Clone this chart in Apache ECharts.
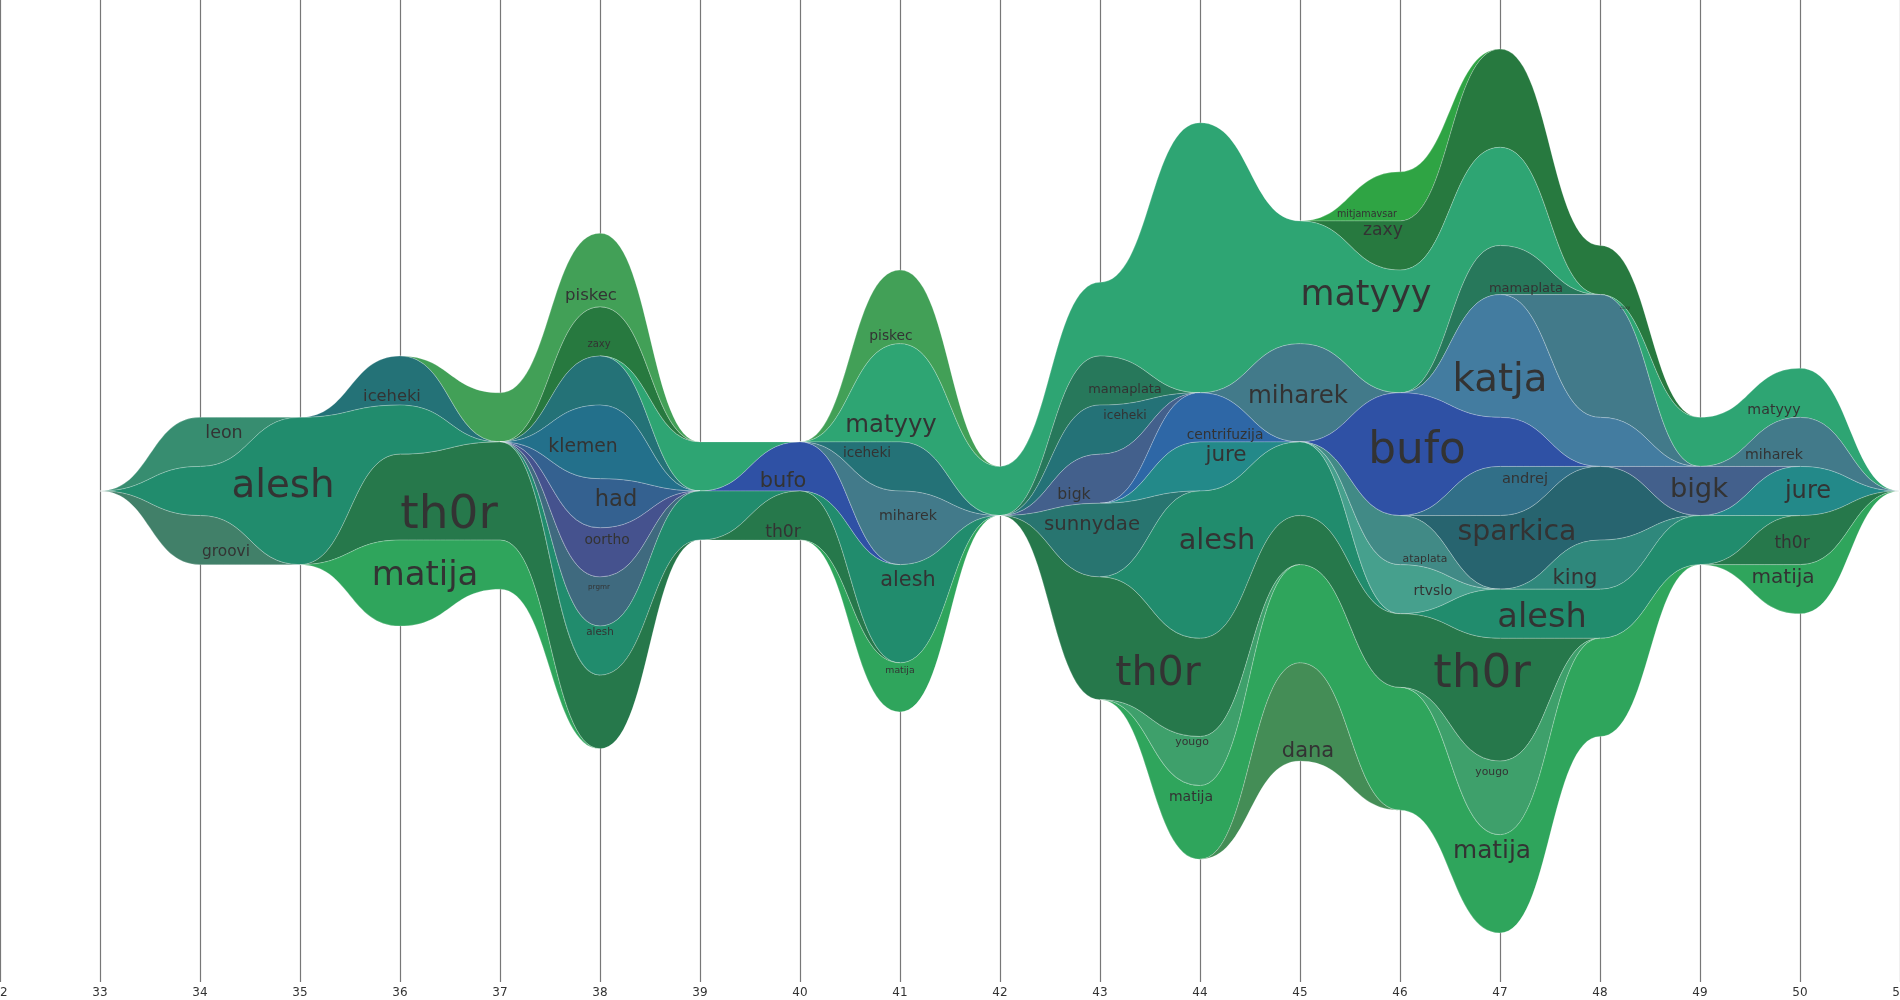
<!DOCTYPE html>
<html>
<head>
<meta charset="utf-8">
<script src="https://cdn.jsdelivr.net/npm/echarts@6/dist/echarts.min.js"></script>
<style>
html,body{margin:0;padding:0;background:#ffffff;}
#main{width:1900px;height:1000px;}
</style>
</head>
<body>
<div id="main"></div>
<script>
// ---- data: week numbers and per-user activity (stream thickness) ----
const weeks = [33,34,35,36,37,38,39,40,41,42,43,44,45,46,47,48,49,50,51];
//                 33 34 35 36 37 38 39 40 41 42 43 44 45 46 47 48 49 50 51
const leon        = [0, 4, 0, 0, 0, 0, 0, 0, 0, 0, 0, 0, 0, 0, 0, 0, 0, 0, 0];
const piskec      = [0, 0, 0, 0, 4, 6, 0, 0, 6, 0, 0, 0, 0, 0, 0, 0, 0, 0, 0];
const mitjamavsar = [0, 0, 0, 0, 0, 0, 0, 0, 0, 0, 0, 0, 0, 4, 0, 0, 0, 0, 0];
const zaxy        = [0, 0, 0, 0, 0, 4, 0, 0, 0, 0, 0, 0, 0, 4, 8, 4, 0, 0, 0];
const matyyy      = [0, 0, 0, 0, 0, 0, 4, 0, 8, 4, 6,22,10,10, 8, 0, 4, 4, 0];
const mamaplata   = [0, 0, 0, 0, 0, 0, 0, 0, 0, 0, 4, 0, 0, 0, 4, 0, 0, 0, 0];
const iceheki     = [0, 0, 0, 4, 0, 4, 0, 0, 4, 0, 4, 0, 0, 0, 0, 0, 0, 0, 0];
const klemen      = [0, 0, 0, 0, 0, 6, 0, 0, 0, 0, 0, 0, 0, 0, 0, 0, 0, 0, 0];
const had         = [0, 0, 0, 0, 0, 4, 0, 0, 0, 0, 0, 0, 0, 0, 0, 0, 0, 0, 0];
const oortho      = [0, 0, 0, 0, 0, 4, 0, 0, 0, 0, 0, 0, 0, 0, 0, 0, 0, 0, 0];
const prgmr       = [0, 0, 0, 0, 0, 4, 0, 0, 0, 0, 0, 0, 0, 0, 0, 0, 0, 0, 0];
const miharek     = [0, 0, 0, 0, 0, 0, 0, 0, 6, 0, 0, 0, 8, 0, 0,10, 0, 4, 0];
const katja       = [0, 0, 0, 0, 0, 0, 0, 0, 0, 0, 0, 0, 0, 0,10, 4, 0, 0, 0];
const bufo        = [0, 0, 0, 0, 0, 0, 0, 4, 0, 0, 0, 0, 0,10, 4, 0, 0, 0, 0];
const andrej      = [0, 0, 0, 0, 0, 0, 0, 0, 0, 0, 0, 0, 0, 0, 4, 0, 0, 0, 0];
const bigk        = [0, 0, 0, 0, 0, 0, 0, 0, 0, 0, 4, 0, 0, 0, 0, 0, 4, 0, 0];
const centrifuzija= [0, 0, 0, 0, 0, 0, 0, 0, 0, 0, 0, 4, 0, 0, 0, 0, 0, 0, 0];
const jure        = [0, 0, 0, 0, 0, 0, 0, 0, 0, 0, 0, 4, 0, 0, 0, 0, 0, 4, 0];
const sunnydae    = [0, 0, 0, 0, 0, 0, 0, 0, 0, 0, 6, 0, 0, 0, 0, 0, 0, 0, 0];
const sparkica    = [0, 0, 0, 0, 0, 0, 0, 0, 0, 0, 0, 0, 0, 0, 6, 6, 0, 0, 0];
const king        = [0, 0, 0, 0, 0, 0, 0, 0, 0, 0, 0, 0, 0, 0, 0, 4, 0, 0, 0];
const ataplata    = [0, 0, 0, 0, 0, 0, 0, 0, 0, 0, 0, 0, 0, 4, 0, 0, 0, 0, 0];
const rtvslo      = [0, 0, 0, 0, 0, 0, 0, 0, 0, 0, 0, 0, 0, 4, 0, 0, 0, 0, 0];
const alesh       = [0, 4,12, 4, 0, 4, 4, 0, 8, 0, 0,12, 6, 0, 4, 4, 4, 0, 0];
const groovi      = [0, 4, 0, 0, 0, 0, 0, 0, 0, 0, 0, 0, 0, 0, 0, 0, 0, 0, 0];
const th0r        = [0, 0, 0, 7, 8, 6, 0, 4, 0, 0,10, 8, 4, 6,10, 0, 0, 4, 0];
const yougo       = [0, 0, 0, 0, 0, 0, 0, 0, 0, 0, 0, 4, 0, 0, 6, 0, 0, 0, 0];
const matija      = [0, 0, 0, 7, 4, 0, 0, 0, 4, 0, 0, 6, 8,10, 8, 8, 0, 4, 0];
const dana        = [0, 0, 0, 0, 0, 0, 0, 0, 0, 0, 0, 0, 8, 0, 0, 0, 0, 0, 0];

// stacking order, top to bottom
const layerOrder = [
  ['leon', leon], ['piskec', piskec], ['mitjamavsar', mitjamavsar], ['zaxy', zaxy],
  ['matyyy', matyyy], ['mamaplata', mamaplata], ['iceheki', iceheki], ['klemen', klemen],
  ['had', had], ['oortho', oortho], ['prgmr', prgmr], ['miharek', miharek],
  ['katja', katja], ['bufo', bufo], ['andrej', andrej], ['bigk', bigk],
  ['centrifuzija', centrifuzija], ['jure', jure], ['sunnydae', sunnydae], ['sparkica', sparkica],
  ['king', king], ['ataplata', ataplata], ['rtvslo', rtvslo], ['alesh', alesh],
  ['groovi', groovi], ['th0r', th0r], ['yougo', yougo], ['matija', matija], ['dana', dana]
];

// ---- styles ----
const layerColors = {
  leon:'#378d70', piskec:'#42a057', mitjamavsar:'#2fa444', zaxy:'#27793f', matyyy:'#2ea573',
  mamaplata:'#27785b', iceheki:'#247277', klemen:'#23708b', had:'#346190', oortho:'#45528e',
  prgmr:'#3f6a7f', miharek:'#427a8a', katja:'#437ca0', bufo:'#2f51a5', andrej:'#316f88',
  bigk:'#43608c', centrifuzija:'#2e67a6', jure:'#238989', sunnydae:'#287570', sparkica:'#27646f',
  king:'#2f887c', ataplata:'#418a86', rtvslo:'#46a08d', alesh:'#218c6d', groovi:'#418069',
  th0r:'#26784b', yougo:'#3ea06b', matija:'#2fa55c', dana:'#448d56'
};

// label annotations: [user, week position, font size, vertical nudge in stream units]
const labelSpots = [
  ['leon',34.24,17.5,0], ['alesh',34.83,38.8,0.3], ['groovi',34.26,15.4,0], ['iceheki',35.92,16.3,-0.7],
  ['th0r',36.49,47,-1.5], ['matija',36.25,33.9,-0.7], ['piskec',37.91,16.5,-0.6], ['zaxy',37.99,10,-0.9],
  ['klemen',37.83,18.8,-0.4], ['had',38.16,22.6,0], ['oortho',38.07,13.8,0.4], ['prgmr',37.99,7.2,1.0],
  ['alesh',38.0,10.3,1.2], ['matyyy',40.91,24.4,-0.3], ['piskec',40.91,13.8,-1.2], ['bufo',39.83,20.9,-0.6],
  ['th0r',39.83,17.2,-0.9], ['iceheki',40.67,13.6,-0.2], ['miharek',41.08,14.2,0.7], ['alesh',41.08,20.8,1.3],
  ['matija',41.0,9.3,1.1], ['mamaplata',43.25,12.9,0], ['iceheki',43.25,12.2,0], ['bigk',42.74,15.7,-0.4],
  ['sunnydae',42.92,19.7,0], ['centrifuzija',44.25,13.8,0], ['jure',44.26,21.5,0], ['miharek',44.98,24.5,-0.3],
  ['matyyy',45.66,34.9,0.9], ['alesh',44.17,28.8,-0.9], ['th0r',43.58,41.3,-0.4], ['yougo',43.92,10.9,1.2],
  ['matija',43.91,14,0.9], ['dana',45.08,21,-1.9], ['mitjamavsar',45.67,9.6,0], ['zaxy',45.83,17.2,0.7],
  ['mamaplata',47.26,13,0], ['katja',47.0,38.7,-0.2], ['bufo',46.17,43.7,-0.6], ['andrej',47.25,14.6,0],
  ['sparkica',47.17,28.3,-0.2], ['ataplata',46.25,10.8,-0.2], ['rtvslo',46.33,13.9,-0.2], ['king',47.75,21.2,-0.2],
  ['alesh',47.42,33.6,-0.4], ['th0r',46.82,47,-0.4], ['yougo',46.92,10.8,1.5], ['matija',46.92,24.8,0.4],
  ['zaxy',48.25,4.6,-1.6], ['matyyy',49.74,14.2,-0.3], ['miharek',49.74,14.2,0.1], ['bigk',48.99,27.4,-0.2],
  ['jure',50.08,24.1,-0.1], ['th0r',49.92,17,-0.1], ['matija',49.83,20.1,0]
];

// ---- layout (centred stream, silhouette baseline) ----
const n = weeks.length;
const layers = layerOrder.map(([name, values]) => ({name, values}));
const sums = weeks.map((_, k) => layers.reduce((s, L) => s + L.values[k], 0));
let cursor = sums.map(s => s / 2);
layers.forEach(L => {
  L.top = cursor.slice();
  cursor = cursor.map((c, k) => c - L.values[k]);
  L.bot = cursor.slice();
});
const byName = {};
layers.forEach(L => { byName[L.name] = L; });

// value along a horizontal-tangent cubic ("bump") curve through the points
function bumpAt(arr, x) {
  if (x <= weeks[0]) return arr[0];
  if (x >= weeks[n - 1]) return arr[n - 1];
  let k = 0;
  while (k < n - 2 && x > weeks[k + 1]) k++;
  const u = (x - weeks[k]) / (weeks[k + 1] - weeks[k]);
  let lo = 0, hi = 1;
  for (let i = 0; i < 40; i++) {
    const t = (lo + hi) / 2;
    const xt = 1.5 * t - 1.5 * t * t + t * t * t;
    if (xt < u) lo = t; else hi = t;
  }
  const t = (lo + hi) / 2;
  return arr[k] + (arr[k + 1] - arr[k]) * (3 * t * t - 2 * t * t * t);
}

const FONT = '"DejaVu Sans", "Noto Sans", sans-serif';
const measureCtx = document.createElement('canvas').getContext('2d');
function textWidth(txt, size) {
  measureCtx.font = size + 'px ' + FONT;
  return measureCtx.measureText(txt).width;
}

function segmentPath(L, s, e, api) {
  const up = [], lo = [];
  for (let k = s; k <= e; k++) {
    up.push(api.coord([weeks[k], L.top[k]]));
    lo.push(api.coord([weeks[k], L.bot[k]]));
  }
  let d = 'M' + up[0][0] + ',' + up[0][1];
  for (let i = 1; i < up.length; i++) {
    const m = (up[i - 1][0] + up[i][0]) / 2;
    d += 'C' + m + ',' + up[i - 1][1] + ' ' + m + ',' + up[i][1] + ' ' + up[i][0] + ',' + up[i][1];
  }
  const last = lo.length - 1;
  d += 'L' + lo[last][0] + ',' + lo[last][1];
  for (let i = last - 1; i >= 0; i--) {
    const m = (lo[i + 1][0] + lo[i][0]) / 2;
    d += 'C' + m + ',' + lo[i + 1][1] + ' ' + m + ',' + lo[i][1] + ' ' + lo[i][0] + ',' + lo[i][1];
  }
  return d + 'Z';
}

function runsOf(values) {
  const runs = [];
  let k = 0;
  while (k < n) {
    if (values[k] > 0) {
      let j = k;
      while (j + 1 < n && values[j + 1] > 0) j++;
      runs.push([Math.max(0, k - 1), Math.min(n - 1, j + 1)]);
      k = j + 1;
    } else k++;
  }
  return runs;
}

const chart = echarts.init(document.getElementById('main'), null, {renderer: 'canvas'});

const option = {
  animation: false,
  backgroundColor: '#ffffff',
  grid: {left: 0, right: 0, top: 0, bottom: 18, containLabel: false, outerBoundsMode: 'none'},
  xAxis: {
    type: 'value', min: 32, max: 51, interval: 1,
    axisLine: {show: false}, axisTick: {show: false},
    axisLabel: {color: '#333', fontSize: 12, fontFamily: FONT, margin: 5, showMinLabel: true, showMaxLabel: true, hideOverlap: false},
    splitLine: {show: true, lineStyle: {color: '#777777', width: 1.2}}
  },
  yAxis: {type: 'value', min: -40, max: 40, show: false, splitLine: {show: false}},
  series: [
    {
      type: 'custom',
      silent: true,
      clip: false,
      data: layers.map((L, i) => [i]),
      dimensions: ['layer'],
      encode: {x: -1, y: -1},
      renderItem: function (params, api) {
        const L = layers[params.dataIndex];
        const children = runsOf(L.values).map(([s, e]) => ({
          type: 'path',
          shape: {pathData: segmentPath(L, s, e, api)},
          style: {fill: layerColors[L.name], stroke: 'rgba(255,255,255,0.32)', lineWidth: 0.7}
        }));
        return {type: 'group', children: children};
      }
    },
    {
      type: 'custom',
      silent: true,
      clip: false,
      z: 5,
      data: labelSpots.map((s, i) => [i]),
      dimensions: ['label'],
      encode: {x: -1, y: -1},
      renderItem: function (params, api) {
        const [name, xPos, size, nudge] = labelSpots[params.dataIndex];
        const L = byName[name];
        const halfW = textWidth(name, size) / 2;
        const pxPerWeek = api.coord([33, 0])[0] - api.coord([32, 0])[0];
        const span = halfW / pxPerWeek;
        let topMin = Infinity, botMax = -Infinity;
        for (let i = 0; i <= 20; i++) {
          const x = xPos - span + (2 * span) * i / 20;
          topMin = Math.min(topMin, bumpAt(L.top, x));
          botMax = Math.max(botMax, bumpAt(L.bot, x));
        }
        const yMid = (topMin + botMax) / 2 + nudge;
        const p = api.coord([xPos, yMid]);
        return {
          type: 'text',
          x: p[0], y: p[1],
          style: {
            text: name, fontSize: size, fontFamily: FONT, fill: '#333333',
            align: 'center', verticalAlign: 'middle'
          }
        };
      }
    }
  ]
};
chart.setOption(option);
</script>
</body>
</html>
